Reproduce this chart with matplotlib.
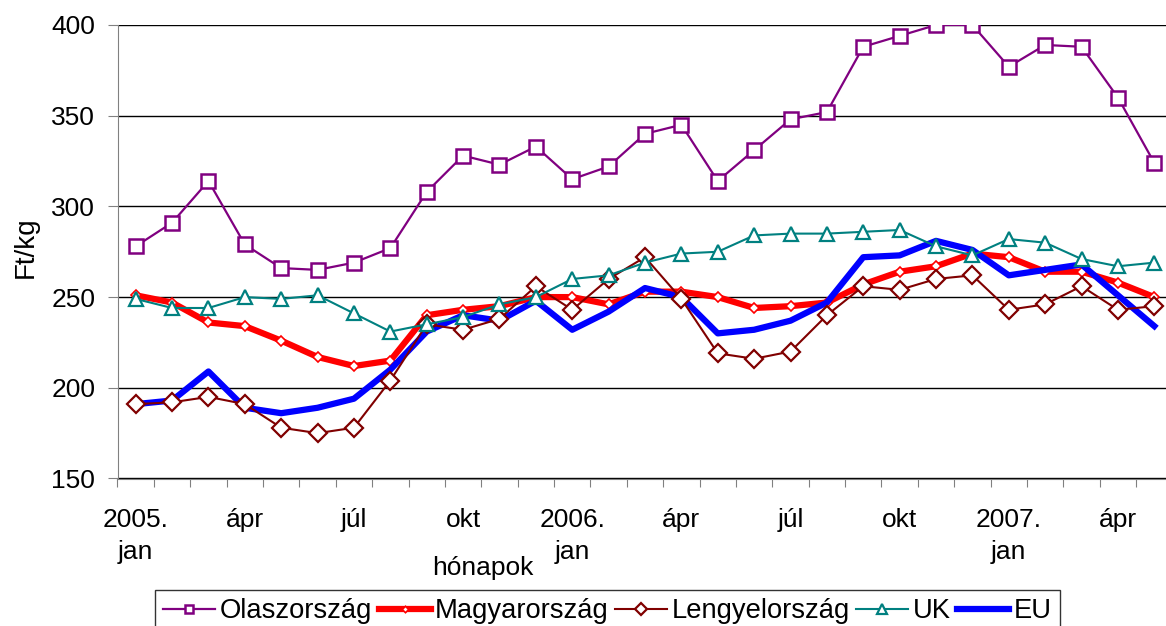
import matplotlib.pyplot as plt
import numpy as np

plt.rcParams['font.family'] = ['Liberation Sans', 'DejaVu Sans']

# monthly prices, 2005 jan - 2007 may (Ft/kg)
months = list(range(29))
olasz = [278, 291, 314, 279, 266, 265, 269, 277, 308, 328, 323, 333, 315, 322,
         340, 345, 314, 331, 348, 352, 388, 394, 400, 400, 377, 389, 388, 360, 324]
magyar = [251, 247, 236, 234, 226, 217, 212, 215, 240, 243, 245, 250, 250, 246,
          253, 253, 250, 244, 245, 247, 257, 264, 267, 274, 272, 264, 264, 258, 250]
lengyel = [191, 192, 195, 191, 178, 175, 178, 204, 235, 232, 238, 256, 243, 260,
           272, 249, 219, 216, 220, 240, 256, 254, 260, 262, 243, 246, 256, 243, 245]
uk = [249, 244, 244, 250, 249, 251, 241, 231, 235, 239, 246, 250, 260, 262,
      269, 274, 275, 284, 285, 285, 286, 287, 278, 273, 282, 280, 271, 267, 269]
eu = [191, 193, 209, 189, 186, 189, 194, 210, 231, 240, 237, 248, 232, 242,
      255, 250, 230, 232, 237, 247, 272, 273, 281, 276, 262, 265, 268, 251, 234]

tick_pos = [0, 3, 6, 9, 12, 15, 18, 21, 24, 27]
tick_labels = ['2005.\njan', 'ápr', 'júl', 'okt', '2006.\njan', 'ápr', 'júl', 'okt',
               '2007.\njan', 'ápr']

fig = plt.figure(figsize=(11.66, 6.26), dpi=100)
ax = fig.add_axes([117.5 / 1166, 1 - 478.5 / 626, 1055 / 1166, 453.5 / 626])

ax.plot(months, olasz, color='#800080', lw=1.6, marker='s', ms=9.5,
        mfc='white', mec='#800080', mew=1.8, label='Olaszország', zorder=3)
ax.plot(months, magyar, color='#FF0000', lw=4.5, marker='D', ms=5,
        mfc='white', mec='#FF0000', mew=1.2, label='Magyarország', zorder=3)
ax.plot(months, lengyel, color='#800000', lw=1.5, marker='D', ms=9.5,
        mfc='white', mec='#800000', mew=1.6, label='Lengyelország', zorder=4)
ax.plot(months, uk, color='#008080', lw=1.5, marker='^', ms=10,
        mfc='white', mec='#008080', mew=1.6, label='UK', zorder=4)
ax.plot(months, eu, color='#0000FF', lw=4.5, label='EU', zorder=3)

ax.set_xlim(-0.5, 28.5)
ax.set_ylim(150, 400)
ax.set_yticks(range(150, 401, 50))
ax.yaxis.grid(True, color='black', lw=1)
ax.set_axisbelow(True)

# month boundaries get the tick marks, quarter labels sit between them
ax.set_xticks(np.arange(-0.5, 29, 1))
ax.set_xticklabels([])
ax.set_xticks(tick_pos, minor=True)
ax.set_xticklabels(tick_labels, minor=True, linespacing=1.45)
ax.tick_params(axis='x', which='major', length=6, color='#808080')
ax.tick_params(axis='x', which='minor', length=0, pad=21, labelsize=19)
ax.tick_params(axis='y', length=7, color='#808080', labelsize=19, pad=9)

for s in ['top', 'right']:
    ax.spines[s].set_visible(False)
ax.spines['left'].set_color('#808080')
ax.spines['bottom'].set_color('#808080')

fig.text(26 / 1166, 1 - 247 / 626, 'Ft/kg', fontsize=20, rotation=90,
         ha='center', va='center')
fig.text(483 / 1166, 1 - 568 / 626, 'hónapok', fontsize=19, ha='center', va='center')

leg = fig.legend(loc='upper left', bbox_to_anchor=(155 / 1166, 1 - 590 / 626),
                 ncol=5, fontsize=19.7, frameon=True, fancybox=False, markerscale=0.65,
                 handlelength=1.9, handletextpad=0.15, columnspacing=0.25,
                 borderpad=0.3, borderaxespad=0)
leg.get_frame().set_edgecolor('black')
leg.get_frame().set_linewidth(1)

fig.savefig('out.png', dpi=100)
